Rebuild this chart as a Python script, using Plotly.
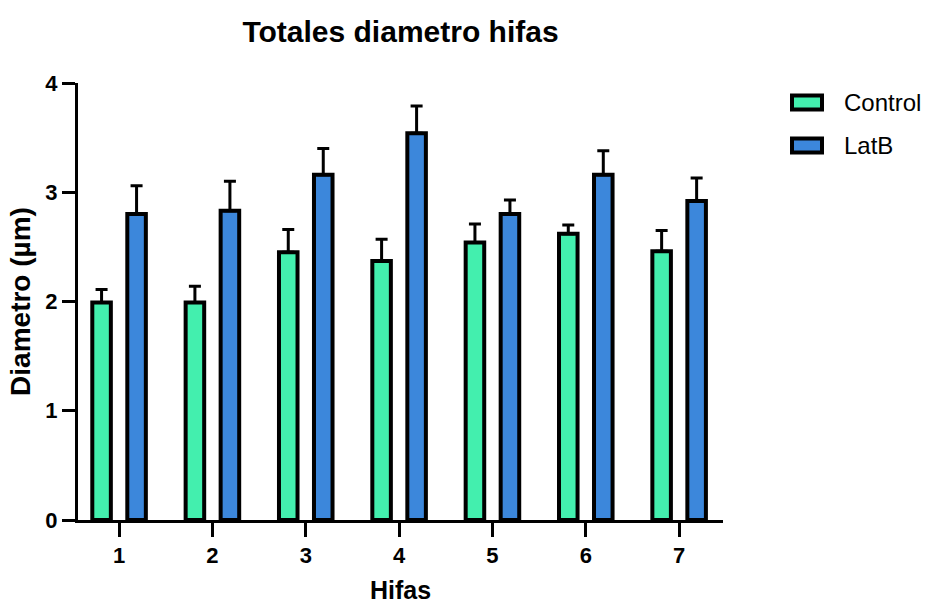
import plotly.graph_objects as go

# Hyphal diameter per group (mean and upper SD)
hifas = ["1", "2", "3", "4", "5", "6", "7"]
control_mean = [1.99, 1.99, 2.45, 2.37, 2.54, 2.62, 2.46]
control_err = [0.12, 0.15, 0.21, 0.20, 0.17, 0.08, 0.19]
latb_mean = [2.80, 2.83, 3.16, 3.54, 2.80, 3.16, 2.92]
latb_err = [0.26, 0.27, 0.24, 0.25, 0.13, 0.22, 0.21]
y_ticks = [0, 1, 2, 3, 4]
series_names = ["Control", "LatB"]
series_colors = ["#43EFAE", "#3C87DB"]

FONT = "Liberation Sans, Arial, sans-serif"
TICK_FONT = dict(family=FONT, size=22, color="black", weight="bold")
W, H = 930, 604
L, R, T, B = 78, 207, 83, 84
PW, PH = W - L - R, H - T - B


def px_x(px):
    return (px - L) / PW


def px_y(py):
    return (H - B - py) / PH


fig = go.Figure()
for name, mean, err, color in zip(series_names, [control_mean, latb_mean],
                                  [control_err, latb_err], series_colors):
    fig.add_trace(go.Bar(
        name=name, x=hifas, y=mean, showlegend=False,
        marker=dict(color=color, line=dict(color="black", width=4)),
        error_y=dict(type="data", array=err, arrayminus=[0] * len(err),
                     symmetric=False, color="black", thickness=3, width=6),
    ))

# Legend with wide swatches, drawn in paper space to the right of the plot
for i, (name, color) in enumerate(zip(series_names, series_colors)):
    cy = 102.5 + i * 43
    fig.add_shape(type="rect", xref="paper", yref="paper",
                  x0=px_x(792), x1=px_x(822), y0=px_y(cy - 7), y1=px_y(cy + 7),
                  fillcolor=color, line=dict(color="black", width=4))
    fig.add_annotation(xref="paper", yref="paper", x=px_x(842), y=px_y(cy),
                       xanchor="left", yanchor="middle", showarrow=False,
                       text=name, font=dict(family=FONT, size=24, color="black"))

fig.update_layout(
    width=W, height=H,
    margin=dict(l=L, r=R, t=T, b=B),
    paper_bgcolor="white", plot_bgcolor="white",
    barmode="group", bargap=0.25, bargroupgap=0.47,
    title=dict(text="<b>Totales diametro hifas</b>", x=(L + W - R) / 2 / W, xanchor="center",
               y=1 - 31 / H, yanchor="middle",
               font=dict(family=FONT, size=30, color="black")),
    font=dict(family=FONT, color="black"),
    showlegend=False,
)

fig.update_layout(
    xaxis=dict(
        type="category", range=[-0.44, 6.47], automargin=False,
        showline=True, linecolor="black", linewidth=3,
        ticks="outside", ticklen=14, tickwidth=3, tickcolor="black",
        tickfont=TICK_FONT,
        title=dict(text="<b>Hifas</b>", font=dict(family=FONT, size=25, color="black"), standoff=20),
        showgrid=False, zeroline=False,
    ),
    yaxis=dict(
        range=[0, 4], tickvals=y_ticks, automargin=False,
        showline=True, linecolor="black", linewidth=3,
        ticks="outside", ticklen=13, tickwidth=3, tickcolor="black",
        tickfont=TICK_FONT,
        title=dict(text="<b>Diametro (µm)</b>", font=dict(family=FONT, size=28, color="black"), standoff=7),
        showgrid=False, zeroline=False,
    ),
)

fig.write_html("out.html")
